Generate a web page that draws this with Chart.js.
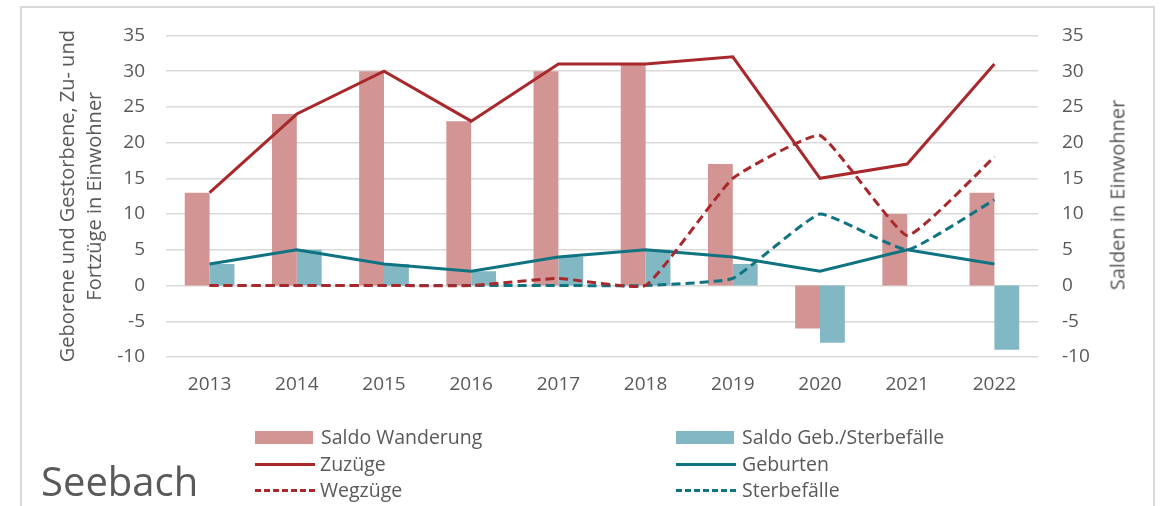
<!DOCTYPE html>
<html>
<head>
<meta charset="utf-8">
<script src="https://cdn.jsdelivr.net/npm/chart.js@4"></script>
<style>
  html, body { margin: 0; padding: 0; background: #ffffff; }
  #wrap { position: relative; width: 1163px; height: 506px; overflow: hidden; font-family: "Open Sans", sans-serif; }
  #frame { position: absolute; left: 20px; top: 6px; width: 1135px; height: 520px; border: 2px solid #d9d9d9; box-sizing: border-box; }
  canvas { position: absolute; left: 0; top: 0; }
  .lg { position: absolute; font-size: 19.5px; color: #595959; line-height: 26px; white-space: nowrap; }
  .sw { position: absolute; }
  #seebach { position: absolute; left: 41px; top: 454px; font-size: 40px; color: #595959; line-height: 54px; }
  #rtitle { position: absolute; left: 1117px; top: 195px; font-size: 20px; color: #595959; white-space: nowrap; transform: translate(-50%, -50%) rotate(-90deg); line-height: 27px; }
</style>
</head>
<body>
<div id="wrap">
  <div id="frame"></div>
  <canvas id="c" width="1163" height="506"></canvas>
  <div id="rtitle"></div>
  <div class="sw" style="left:255px;top:431px;width:58px;height:13px;background:#d39494"></div>
  <div class="lg" style="left:321px;top:424px">Saldo Wanderung</div>
  <div class="sw" style="left:255px;top:463px;width:60px;height:0;border-top:3px solid #a8282c"></div>
  <div class="lg" style="left:320px;top:451px">Zuzüge</div>
  <div class="sw" style="left:255px;top:489px;width:60px;height:0;border-top:3px dashed #a8282c"></div>
  <div class="lg" style="left:320px;top:477px">Wegzüge</div>
  <div class="sw" style="left:676px;top:431px;width:58px;height:13px;background:#81b8c4"></div>
  <div class="lg" style="left:742px;top:424px">Saldo Geb./Sterbefälle</div>
  <div class="sw" style="left:676px;top:463px;width:60px;height:0;border-top:3px solid #0f7382"></div>
  <div class="lg" style="left:742px;top:451px">Geburten</div>
  <div class="sw" style="left:676px;top:489px;width:60px;height:0;border-top:3px dashed #0f7382"></div>
  <div class="lg" style="left:742px;top:477px">Sterbefälle</div>
  <div id="seebach">Seebach</div>
</div>
<script>
const years = ["2013","2014","2015","2016","2017","2018","2019","2020","2021","2022"];
const saldoWanderung = [13, 24, 30, 23, 30, 31, 17, -6, 10, 13];
const saldoGebSterbe = [3, 5, 3, 2, 4, 5, 3, -8, 0, -9];
const zuzuege = [13, 24, 30, 23, 31, 31, 32, 15, 17, 31];
const wegzuege = [0, 0, 0, 0, 1, 0, 15, 21, 7, 18];
const geburten = [3, 5, 3, 2, 4, 5, 4, 2, 5, 3];
const sterbefaelle = [0, 0, 0, 0, 0, 0, 1, 10, 5, 12];
const leftTitle = ["Geborene und Gestorbene, Zu- und", "Fortzüge in Einwohner"];
const rightTitle = "Salden in Einwohner";

document.getElementById('rtitle').textContent = rightTitle;

const FONT = "'Open Sans', sans-serif";
const TICK = "#595959";

new Chart(document.getElementById('c'), {
  type: 'bar',
  data: {
    labels: years,
    datasets: [
      { type: 'line', label: 'Zuzüge', data: zuzuege, borderColor: '#a8282c', borderWidth: 3, pointRadius: 0, tension: 0, yAxisID: 'y', order: 0 },
      { type: 'line', label: 'Wegzüge', data: wegzuege, borderColor: '#a8282c', borderWidth: 3, borderDash: [9, 5], pointRadius: 0, tension: 0.12, yAxisID: 'y', order: 0 },
      { type: 'line', label: 'Geburten', data: geburten, borderColor: '#0f7382', borderWidth: 3, pointRadius: 0, tension: 0, yAxisID: 'y', order: 0 },
      { type: 'line', label: 'Sterbefälle', data: sterbefaelle, borderColor: '#0f7382', borderWidth: 3, borderDash: [9, 5], pointRadius: 0, tension: 0.12, yAxisID: 'y', order: 0 },
      { label: 'Saldo Wanderung', data: saldoWanderung, backgroundColor: '#d39494', yAxisID: 'y2', order: 1, categoryPercentage: 0.57, barPercentage: 1 },
      { label: 'Saldo Geb./Sterbefälle', data: saldoGebSterbe, backgroundColor: '#81b8c4', yAxisID: 'y2', order: 1, categoryPercentage: 0.57, barPercentage: 1 }
    ]
  },
  options: {
    responsive: false,
    animation: false,
    layout: { padding: { left: 21, right: 6, top: 33, bottom: 0 } },
    plugins: { legend: { display: false }, tooltip: { enabled: false } },
    scales: {
      x: {
        grid: { display: false, drawTicks: false },
        border: { display: false },
        ticks: { color: TICK, font: { family: FONT, size: 19 }, padding: 16 },
        afterFit: (s) => { s.height = 149; }
      },
      y: {
        position: 'left',
        min: -10, max: 35,
        ticks: { stepSize: 5, color: TICK, font: { family: FONT, size: 19 }, padding: 21 },
        grid: { color: '#d9d9d9', lineWidth: 1.5, drawTicks: false },
        border: { display: false },
        title: { display: true, text: leftTitle, color: TICK, font: { family: FONT, size: 20, lineHeight: 1.35 }, padding: { top: 33.5, bottom: 0 } },
        afterFit: (s) => { s.width = 145; }
      },
      y2: {
        position: 'right',
        min: -10, max: 35,
        ticks: { stepSize: 5, color: TICK, font: { family: FONT, size: 19 }, padding: 24 },
        grid: { display: false, drawTicks: false },
        border: { display: false },
        title: { display: false },
        afterFit: (s) => { s.width = 119; }
      }
    }
  }
});
</script>
</body>
</html>
